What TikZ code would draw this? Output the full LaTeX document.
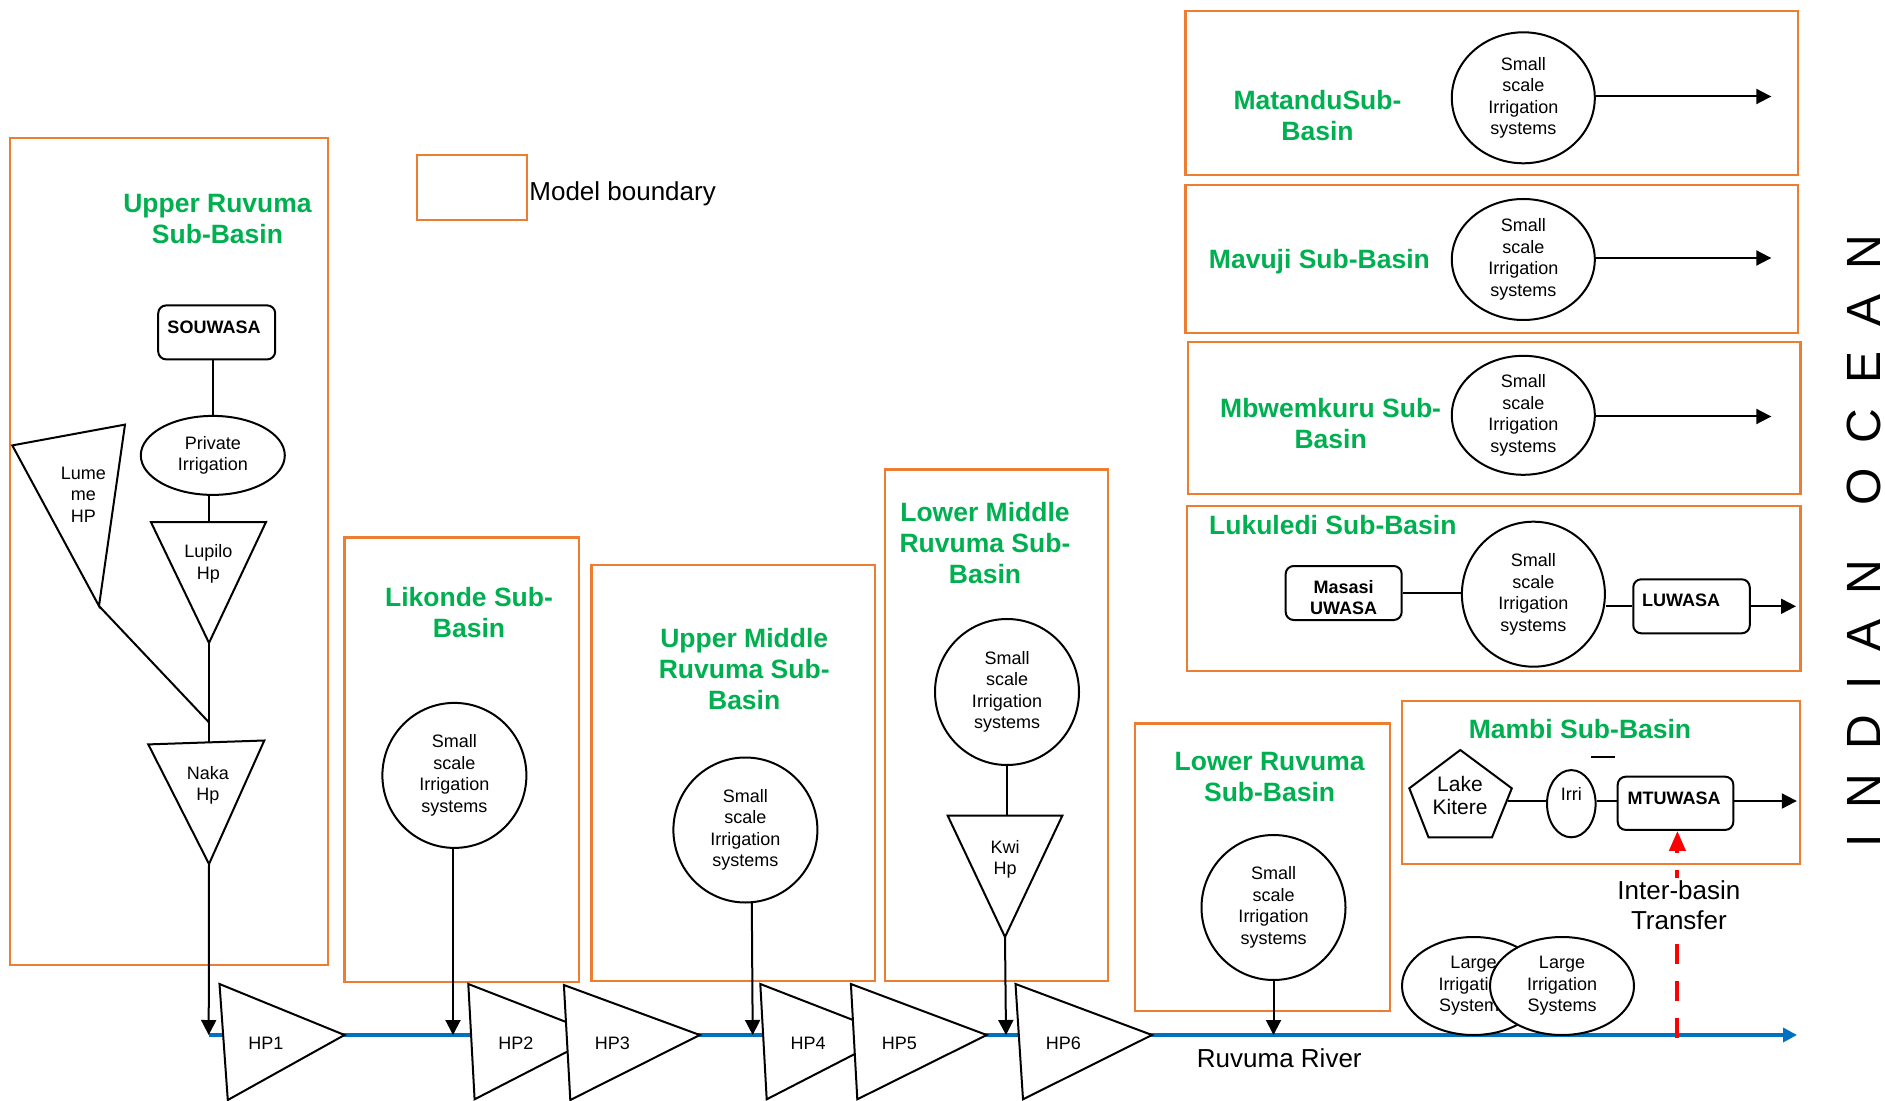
\documentclass[tikz,border=0pt]{standalone}
\usepackage{fontspec}
\setmainfont{Liberation Sans}
\usetikzlibrary{shapes.geometric,arrows.meta}
\definecolor{borange}{RGB}{237,125,49}
\definecolor{sgreen}{RGB}{0,176,80}
\definecolor{rblue}{RGB}{0,112,192}
\begin{document}
\begin{tikzpicture}[x=0.5pt,y=-0.5pt,
  bnd/.style={draw=borange, line width=1.1pt},
  ttl/.style={text=sgreen, font=\fontsize{13.25}{15.5}\selectfont\bfseries, align=center, inner sep=0pt},
  irr/.style={draw, ellipse, line width=1pt, fill=white, inner sep=0pt, align=center, font=\fontsize{9}{10.75}\selectfont},
  rbox/.style={draw, rounded corners=4pt, line width=1pt, fill=white, inner sep=0pt, align=center, font=\fontsize{9}{10.75}\selectfont\bfseries},
  tri/.style={draw, fill=white, line width=1pt, line join=miter},
  lbl/.style={font=\fontsize{9}{10.65}\selectfont, align=center, inner sep=0pt},
  blbl/.style={font=\fontsize{9}{10.65}\selectfont\bfseries, align=center, inner sep=0pt},
  big/.style={font=\fontsize{13}{15.3}\selectfont, align=center, inner sep=0pt},
  link/.style={line width=1pt},
  flow/.style={line width=1pt, -{Triangle[length=7.5pt,width=7.5pt]}},
  river/.style={draw=rblue, line width=2pt, -{Triangle[length=7pt,width=7pt]}},
  redflow/.style={draw=red, line width=2pt, dash pattern=on 10pt off 8.5pt, -{Triangle[length=10pt,width=8pt]}}
]
\useasboundingbox (0,0) rectangle (1885,1101);

% ---------- model boundaries ----------
\draw[bnd] (10,138) rectangle (328,965);
\draw[bnd] (344.5,537.4) rectangle (578.6,981.7);
\draw[bnd] (591.4,565) rectangle (875.2,980.7);
\draw[bnd] (885,469.6) rectangle (1108.3,980.7);
\draw[bnd] (1134.8,723.5) rectangle (1390,1011);
\draw[bnd] (1402,701) rectangle (1800,864);
\draw[bnd] (1186.7,506) rectangle (1800.5,670.7);
\draw[bnd] (1187.6,341.7) rectangle (1800.5,494.3);
\draw[bnd] (1185.4,185) rectangle (1798.3,333.3);
\draw[bnd] (1185.4,11) rectangle (1798.3,175);

% legend
\draw[bnd] (417.2,155.1) rectangle (526.6,220);
\node[big, anchor=west] (legend) at (529,193.6) {Model boundary};

% ---------- river ----------
\coordinate (rs) at (208.7,1035);
\coordinate (re) at (1797,1035);
\draw[river] (rs) -- (re);
\node[big] (rivlbl) at (1279.3,1058.3) {Ruvuma River};

% ---------- Upper Ruvuma ----------
\node[ttl] (t1) at (217.5,219) {Upper Ruvuma\\Sub-Basin};
\node[rbox, minimum width=58.5pt, minimum height=27pt] (souwasa) at (216.7,332.4) {};
\node[blbl] (souwasat) at (214,327) {SOUWASA};
\node[irr, minimum width=72pt, minimum height=39.5pt] (priv) at (212.8,455.4) {Private\\Irrigation};
\draw[tri] (151,522.2) -- (266,522) -- (209,642.9) coordinate (lupB) -- cycle;
\coordinate (lupT) at (209,522.1);
\node[lbl] (lupilo) at (208.3,563.7) {Lupilo\\Hp};
\draw[tri] (12.3,445.4) -- (125,424.6) -- (99,606) coordinate (lumB) -- cycle;
\node[lbl] (lume) at (83.3,494.8) {Lume\\me\\HP};
\draw[tri] (148.3,744.4) -- (264.3,740.5) -- (209,864) coordinate (nakB) -- cycle;
\coordinate (nakT) at (209,742.3);
\node[lbl] (naka) at (208,785) {Naka\\Hp};
\coordinate (lumJ) at (209,722.4);
\draw[link] (priv.north |- souwasa.south) -- (priv.north);
\draw[link] (lupT |- priv.south) -- (lupT);
\draw[link] (lupB) -- (nakT);
\draw[link] (lumB) -- (lumJ);
\draw[flow] (nakB) -- (rs);

% ---------- Likonde ----------
\node[ttl] (t2) at (469,613) {Likonde Sub-\\Basin};
\node[irr, minimum width=72pt, minimum height=72.5pt] (likc) at (454.4,775.4) {Small\\scale\\Irrigation\\systems};
\coordinate (r2) at (453,1035);
\draw[flow] (likc.south -| r2) -- (r2);

% ---------- Upper Middle ----------
\node[ttl] (t3) at (744.2,669) {Upper Middle\\Ruvuma Sub-\\Basin};
\node[irr, minimum width=72pt, minimum height=72.5pt] (umc) at (745.4,830) {Small\\scale\\Irrigation\\systems};
\coordinate (r3) at (752.7,1035);
\draw[flow] (umc.-85) -- (r3);

% ---------- Lower Middle ----------
\node[ttl] (t4) at (985,542.6) {Lower Middle\\Ruvuma Sub-\\Basin};
\node[irr, minimum width=72pt, minimum height=73pt] (lmc) at (1007,692) {Small\\scale\\Irrigation\\systems};
\draw[tri] (947.7,815.7) -- (1062.3,815.7) -- (1005,937) coordinate (kwiB) -- cycle;
\coordinate (kwiT) at (1007,815.7);
\node[lbl] (kwi) at (1005,859.4) {Kwi\\Hp};
\draw[link] (lmc.south) -- (kwiT);
\coordinate (r4) at (1006,1035);
\draw[flow] (kwiB) -- (r4);

% ---------- Lower Ruvuma ----------
\node[ttl] (t5) at (1269.6,777.5) {Lower Ruvuma\\Sub-Basin};
\node[irr, minimum width=72pt, minimum height=72.5pt] (lrc) at (1273.5,907.5) {Small\\scale\\Irrigation\\systems};
\coordinate (r5) at (1273.5,1035);
\draw[flow] (lrc.south) -- (r5);

% ---------- HP chain on the river ----------
\draw[tri] (219.5,984) -- (344.5,1035) -- (227.8,1100) -- cycle;
\node[lbl] (hp1) at (266,1043) {HP1};
\draw[tri] (468.3,984) -- (599.6,1035) -- (474.6,1099.3) -- cycle;
\node[lbl] (hp2) at (516,1043) {HP2};
\draw[tri] (563.9,985) -- (699.8,1035) -- (570.3,1100) -- cycle;
\node[lbl] (hp3) at (612.4,1043) {HP3};
\draw[tri] (760.3,984) -- (891.7,1035) -- (766.7,1099.3) -- cycle;
\node[lbl] (hp4) at (808.2,1043) {HP4};
\draw[tri] (850.9,984) -- (986.7,1035) -- (857.3,1099.3) -- cycle;
\node[lbl] (hp5) at (899.4,1043) {HP5};
\draw[tri] (1015.5,984) -- (1152,1035) -- (1023,1099.3) -- cycle;
\node[lbl] (hp6) at (1063.3,1043) {HP6};

% ---------- Large irrigation ----------
\node[irr, minimum width=71.5pt, minimum height=49pt] (lg1) at (1473.5,986) {Large\\Irrigation\\Systems};
\node[irr, minimum width=72pt, minimum height=49pt] (lg2) at (1562,986) {Large\\Irrigation\\Systems};

% ---------- Mambi ----------
\node[ttl] (t6) at (1580,729.3) {Mambi Sub-Basin};
\draw[link] (1591,756.7) -- (1615,756.7);
\draw[tri] (1460.3,750) -- (1511.8,788.3) -- (1492,837.3) -- (1428.5,837.3) -- (1409.3,788.3) -- cycle;
\node[font=\fontsize{10.5}{11.7}\selectfont, align=center, inner sep=0pt] (lake) at (1460,795.6) {Lake\\Kitere};
\coordinate (lakeR) at (1508,801);
\node[irr, minimum width=24.3pt, minimum height=33.6pt] (irri) at (1571.3,803.7) {};
\node[lbl] (irrit) at (1571.3,794.3) {Irri};
\node[rbox, minimum width=57.8pt, minimum height=26.6pt] (mtu) at (1675.5,803.3) {};
\node[blbl] (mtut) at (1674,798.7) {MTUWASA};
\draw[link] (lakeR) -- (lakeR -| irri.west);
\draw[link] (irri.east |- lakeR) -- (mtu.west |- lakeR);
\coordinate (mtuE) at (1796.8,801);
\draw[flow] (mtu.east |- mtuE) -- (mtuE);
\coordinate (rtb) at (1677.4,1038);
\draw[redflow] (rtb) -- (rtb |- mtu.south);
\node[big, fill=white, inner sep=1pt] (ibt) at (1678.9,905.3) {Inter-basin\\Transfer};

% ---------- Lukuledi ----------
\node[ttl] (t7) at (1332.8,525) {Lukuledi Sub-Basin};
\node[rbox, minimum width=58pt, minimum height=27pt] (masasi) at (1343.7,593) {};
\node[blbl] (masasit) at (1343.7,597.5) {Masasi\\UWASA};
\node[irr, minimum width=71.5pt, minimum height=72.5pt] (lukc) at (1533.4,594.2) {Small\\scale\\Irrigation\\systems};
\node[rbox, minimum width=58.25pt, minimum height=27pt] (luwasa) at (1691.5,606.3) {};
\node[blbl] (luwasat) at (1681,600) {LUWASA};
\draw[link] (masasi.east) -- (masasi.east -| lukc.west);
\draw[link] (lukc.east |- luwasa.west) -- (luwasa.west);
\coordinate (lukE) at (1796,606.3);
\draw[flow] (luwasa.east) -- (lukE);

% ---------- Mbwemkuru ----------
\node[ttl] (t8) at (1330.6,424) {Mbwemkuru Sub-\\Basin};
\node[irr, minimum width=71.5pt, minimum height=59.5pt] (mbc) at (1523.3,415.3) {Small\\scale\\Irrigation\\systems};
\coordinate (mbE) at (1771.3,416.5);
\draw[flow] (mbc.east |- mbE) -- (mbE);

% ---------- Mavuji ----------
\node[ttl] (t9) at (1319.4,261.7) {Mavuji Sub-Basin};
\node[irr, minimum width=71.5pt, minimum height=60.5pt] (mvc) at (1523.3,259.5) {Small\\scale\\Irrigation\\systems};
\coordinate (mvE) at (1771.3,258);
\draw[flow] (mvc.east |- mvE) -- (mvE);

% ---------- Matandu ----------
\node[ttl] (t10) at (1317.5,115.5) {MatanduSub-\\Basin};
\node[irr, minimum width=71.5pt, minimum height=65.5pt] (mtc) at (1523.3,97.8) {Small\\scale\\Irrigation\\systems};
\coordinate (mtE) at (1771.3,96.5);
\draw[flow] (mtc.east |- mtE) -- (mtE);

% ---------- ocean ----------
\node[rotate=90, font=\fontsize{24}{28}\selectfont, inner sep=0pt] (ocean) at (1864,541)
  {I\hspace{12.5pt}N\hspace{12.5pt}D\hspace{12.5pt}I\hspace{12.5pt}A\hspace{12.5pt}N\hspace{27pt}O\hspace{12.5pt}C\hspace{12.5pt}E\hspace{12.5pt}A\hspace{12.5pt}N};
\end{tikzpicture}
\end{document}
